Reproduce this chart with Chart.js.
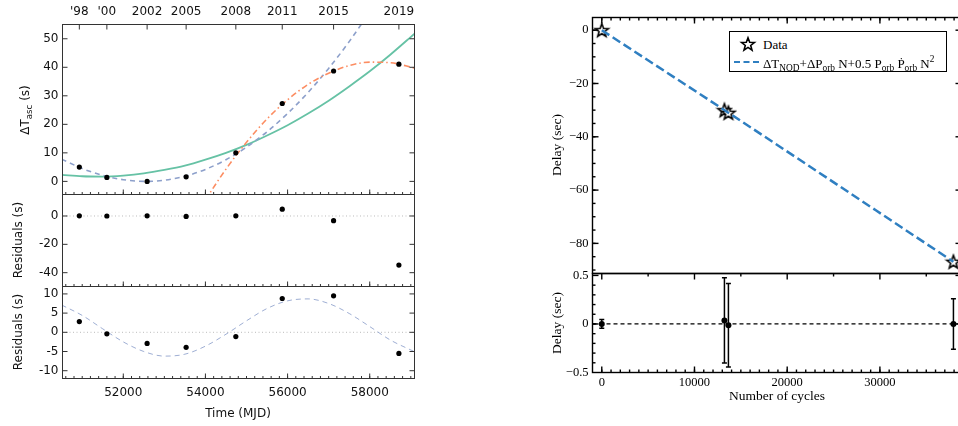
<!DOCTYPE html>
<html>
<head>
<meta charset="utf-8">
<script src="https://cdn.jsdelivr.net/npm/chart.js@4.4.1/dist/chart.umd.min.js"></script>
<style>
  html, body { margin: 0; padding: 0; background: #fff; }
  #wrap { position: relative; width: 958px; height: 426px; overflow: hidden; }
  #wrap canvas { position: absolute; }
  .lab { position: absolute; white-space: nowrap; line-height: 1; transform: translate(-50%, -50%); }
  .rot { transform: translate(-50%, -50%) rotate(-90deg); }
  .sans { font-family: "DejaVu Sans", sans-serif; font-size: 12px; color: #111; }
  .serif { font-family: "Liberation Serif", serif; font-size: 13.5px; color: #000; }
  sub, sup { font-size: 0.72em; line-height: 0; }
  #legend { position: absolute; left: 729px; top: 31px; width: 216px; height: 39px; border: 1.4px solid #000; background: #fff;
            font-family: "Liberation Serif", serif; font-size: 13px; color: #000; }
  #legend .t { position: absolute; white-space: nowrap; line-height: 1; transform: translateY(-50%); }
  #legend .dash { position: absolute; left: 4px; top: 29px; width: 25px; border-top: 2.5px dashed #2f7fc1; }
</style>
</head>
<body>
<div id="wrap">
  <canvas id="lt" width="420" height="426" style="left:0;top:0"></canvas>
  <canvas id="lm" width="420" height="426" style="left:0;top:0"></canvas>
  <canvas id="lb" width="420" height="426" style="left:0;top:0"></canvas>
  <canvas id="rt" width="470" height="426" style="left:540px;top:0"></canvas>
  <canvas id="rb" width="470" height="426" style="left:540px;top:0"></canvas>

  <div class="lab rot sans" style="left:25px;top:110px">ΔT<sub>asc</sub> (s)</div>
  <div class="lab rot sans" style="left:18px;top:240px">Residuals (s)</div>
  <div class="lab rot sans" style="left:18px;top:332px">Residuals (s)</div>
  <div class="lab sans" style="left:238px;top:413px">Time (MJD)</div>

  <div class="lab rot serif" style="left:557px;top:145px">Delay (sec)</div>
  <div class="lab rot serif" style="left:557px;top:323px">Delay (sec)</div>
  <div class="lab serif" style="left:777px;top:396px">Number of cycles</div>

  <div id="legend">
    <span class="t" style="left:33px;top:12px">Data</span>
    <div class="dash"></div>
    <span class="t" style="left:33px;top:31px">ΔT<sub>NOD</sub>+ΔP<sub>orb</sub> N+0.5 P<sub>orb</sub> Ṗ<sub>orb</sub> N<sup>2</sup></span>
  </div>
</div>

<script>
// left figure: observed epochs (MJD) and values
const mjd = [50930, 51600, 52580, 53530, 54740, 55870, 57120, 58710];
const yearLabels = ["'98", "'00", "2002", "2005", "2008", "2011", "2015", "2019"];
const dTasc = [5.0, 1.4, 0.0, 1.6, 10.0, 27.3, 38.7, 41.1];
const residQuad = [0.1, 0.0, 0.1, -0.3, 0.1, 4.8, -3.3, -34.6];
const residSine = [2.8, -0.4, -2.9, -3.9, -1.1, 8.8, 9.5, -5.5];

// fitted curves
const fitMjd = [50500, 51000, 51500, 52000, 52500, 53000, 53500, 54000, 54500, 55000, 55500, 56000, 56500, 57000, 57500, 58000, 58500, 59100];
const fitGreen = [2.3, 1.8, 1.7, 2.05, 2.8, 4.0, 5.5, 7.6, 10.0, 12.8, 16.1, 19.7, 23.8, 28.3, 33.3, 38.6, 44.4, 51.9];
const fitBlue = [7.8, 4.5, 2.1, 0.6, 0.0, 0.4, 1.8, 4.2, 7.6, 12.0, 17.4, 23.8, 31.2, 39.6, 49.0, 59.4, null, null];
const fitOrange = [null, null, null, null, null, null, -18.8, -6.6, 4.3, 13.7, 21.9, 28.6, 34.0, 37.9, 40.6, 41.8, 41.6, 39.7];
const fitSine = [7.1, 4.4, 0.9, -2.5, -5.0, -6.2, -5.7, -3.6, -0.5, 3.0, 6.2, 8.2, 8.7, 7.5, 4.9, 1.5, -2.0, -5.1];

// right figure
const cycles = [0, 13230, 13660, 37930];
const delay = [0, -30.0, -31.0, -86.9];
const fitCycles = [0, 13450, 37930];
const fitDelay = [0, -30.5, -86.9];
const residDelay = [0, 0.037, -0.014, 0];
const residErr = [0.045, 0.44, 0.43, 0.26];

// tick values
const dtTicks = [0, 10, 20, 30, 40, 50];
const quadTicks = [0, -20, -40];
const sineTicks = [10, 5, 0, -5, -10];
const mjdTicks = [52000, 54000, 56000, 58000];
const delayTicks = [0, -20, -40, -60, -80];
const dresTicks = [0.5, 0, -0.5];
const cycleTicks = [0, 10000, 20000, 30000];

const pts = (xs, ys) => xs.map((x, i) => ({x, y: ys[i]})).filter(p => p.y !== null);
const range = (a, b, s) => { const r = []; for (let v = a; v <= b + 1e-9; v += s) r.push(+v.toFixed(6)); return r; };
const fixed = vals => s => { s.ticks = vals.map(v => ({value: v})); };
const minus = v => (v < 0 ? '\u2212' : '') + String(Math.abs(v));

const SANS = {family: 'DejaVu Sans', size: 12};
const SERIF = {family: 'Liberation Serif', size: 12.5};

// frame, inward ticks and error bars
const frame = {
    id: 'frame',
    beforeDatasetsDraw(chart, args, o) {
        if (!o.errors) return;
        const {ctx, scales} = chart;
        const meta = chart.getDatasetMeta(o.errors.dataset);
        const data = chart.data.datasets[o.errors.dataset].data;
        ctx.save();
        ctx.strokeStyle = '#000';
        ctx.lineWidth = 1.5;
        o.errors.values.forEach((e, i) => {
            const x = meta.data[i].x;
            const y1 = scales.y.getPixelForValue(data[i].y + e);
            const y2 = scales.y.getPixelForValue(data[i].y - e);
            ctx.beginPath();
            ctx.moveTo(x, y1); ctx.lineTo(x, y2);
            ctx.moveTo(x - 2.5, y1); ctx.lineTo(x + 2.5, y1);
            ctx.moveTo(x - 2.5, y2); ctx.lineTo(x + 2.5, y2);
            ctx.stroke();
        });
        ctx.restore();
    },
    afterDraw(chart, args, o) {
        const {ctx, chartArea: a, scales} = chart;
        ctx.save();
        ctx.strokeStyle = o.color;
        ctx.lineWidth = o.width;
        ctx.strokeRect(a.left, a.top, a.right - a.left, a.bottom - a.top);
        (o.marks || []).forEach(m => {
            const sc = scales[m.axis];
            m.values.forEach(v => {
                const p = sc.getPixelForValue(v);
                ctx.beginPath();
                if (m.axis === 'x') {
                    if (p < a.left + 1 || p > a.right - 1) return;
                    const y0 = m.side === 'top' ? a.top : a.bottom;
                    ctx.moveTo(p, y0);
                    ctx.lineTo(p, m.side === 'top' ? y0 + m.len : y0 - m.len);
                } else {
                    if (p < a.top + 1 || p > a.bottom - 1) return;
                    const x0 = m.side === 'left' ? a.left : a.right;
                    ctx.moveTo(x0, p);
                    ctx.lineTo(m.side === 'left' ? x0 + m.len : x0 - m.len, p);
                }
                ctx.stroke();
            });
        });
        ctx.restore();
    }
};

const mark = (axis, side, values, len) => ({axis, side, values, len});

// fix the plot area: displayed axes get the margin, others get layout padding
function place(scales, area, W, H) {
    const pad = {left: area.l, top: area.t, right: W - area.r, bottom: H - area.b};
    Object.values(scales).forEach(s => {
        if (s.display === false) return;
        const side = s.position;
        const size = pad[side];
        pad[side] = 0;
        s.afterFit = sc => {
            if (side === 'left' || side === 'right') sc.width = size;
            else sc.height = size;
        };
    });
    return pad;
}

function axis(min, max, extra) {
    return Object.assign({
        type: 'linear', min, max,
        grid: {display: false, drawTicks: false},
        border: {display: false}
    }, extra);
}

function makeChart(id, W, H, area, datasets, scales, frameOpts) {
    const padding = place(scales, area, W, H);
    return new Chart(document.getElementById(id), {
        type: 'scatter',
        data: {datasets},
        options: {
            responsive: false,
            animation: false,
            devicePixelRatio: 1,
            layout: {padding},
            scales,
            plugins: {legend: {display: false}, tooltip: {enabled: false}, frame: frameOpts}
        },
        plugins: [frame]
    });
}

function dots(xs, ys) {
    return {data: pts(xs, ys), pointRadius: 2.6, pointBackgroundColor: '#000', pointBorderWidth: 0, showLine: false};
}
function curve(xs, ys, color, width, dash) {
    return {data: pts(xs, ys), showLine: true, pointRadius: 0, borderColor: color, borderWidth: width,
            borderDash: dash, cubicInterpolationMode: 'monotone'};
}

function makeStar(R) {
    const c = document.createElement('canvas');
    const s = Math.ceil(R * 2 + 4);
    c.width = c.height = s;
    const g = c.getContext('2d');
    g.translate(s / 2, s / 2 + R * 0.08);
    g.beginPath();
    for (let k = 0; k < 10; k++) {
        const r = k % 2 ? R * 0.42 : R;
        const ang = -Math.PI / 2 + k * Math.PI / 5;
        g.lineTo(r * Math.cos(ang), r * Math.sin(ang));
    }
    g.closePath();
    g.fillStyle = '#fff';
    g.fill();
    g.lineWidth = 1.6;
    g.strokeStyle = '#000';
    g.stroke();
    return c;
}

// ---------- left figure ----------
const LW = 420, LH = 426;
const leftMinor = range(50600, 59000, 200);
const leftX = () => axis(50520, 59090, {display: false});
const leftY = (min, max, ticks) => axis(min, max, {
    position: 'left', afterBuildTicks: fixed(ticks),
    ticks: {padding: 4, font: SANS, color: '#111', callback: v => String(v)}
});
const leftFrame = (yt, extra) => ({
    color: '#333', width: 1,
    marks: [mark('x', 'bottom', mjdTicks, 5), mark('x', 'bottom', leftMinor, 2.5),
            mark('y', 'left', yt, 5), mark('y', 'right', yt, 5)].concat(extra || [])
});

makeChart('lt', LW, LH, {l: 62.5, t: 24.5, r: 414.5, b: 194.5}, [
    dots(mjd, dTasc),
    curve(fitMjd, fitOrange, '#fc8d62', 1.6, [6, 3, 1.5, 3]),
    curve(fitMjd, fitBlue, '#8da0cb', 1.6, [5, 4]),
    curve(fitMjd, fitGreen, '#66c2a5', 1.8, [])
], {
    x: axis(50520, 59090, {
        position: 'top', afterBuildTicks: fixed(mjd),
        ticks: {autoSkip: false, maxRotation: 0, padding: 5, font: SANS, color: '#111', callback: (v, i) => yearLabels[i]}
    }),
    y: leftY(-4.6, 55, dtTicks)
}, leftFrame(dtTicks, [mark('x', 'top', mjd, 5)]));

makeChart('lm', LW, LH, {l: 62.5, t: 194.5, r: 414.5, b: 286.5}, [
    dots(mjd, residQuad),
    curve([50520, 59090], [0, 0], '#bbb', 1, [1, 2.5])
], {
    x: leftX(),
    y: leftY(-49.75, 15.17, quadTicks)
}, leftFrame(quadTicks));

makeChart('lb', LW, LH, {l: 62.5, t: 286.5, r: 414.5, b: 378.5}, [
    dots(mjd, residSine),
    curve(fitMjd, fitSine, 'rgba(141,160,203,0.85)', 1, [5, 4]),
    curve([50520, 59090], [0, 0], '#bbb', 1, [1, 2.5])
], {
    x: axis(50520, 59090, {
        position: 'bottom', afterBuildTicks: fixed(mjdTicks),
        ticks: {autoSkip: false, maxRotation: 0, padding: 7.5, font: SANS, color: '#111', callback: v => String(v)}
    }),
    y: leftY(-12.03, 11.93, sineTicks)
}, leftFrame(sineTicks));

// ---------- right figure ----------
const RW = 470, RH = 426;
const star = makeStar(7);
const legendStar = makeStar(6.8);
legendStar.style.cssText = 'position:absolute;left:' + (17.7 - legendStar.width / 2) + 'px;top:' + (11.5 - legendStar.height / 2) + 'px';
document.getElementById('legend').appendChild(legendStar);

const rightMinor = range(-1000, 38000, 1000);

makeChart('rt', RW, RH, {l: 52.5, t: 17.5, r: 421.5, b: 273.5}, [
    curve(fitCycles, fitDelay, '#2f7fc1', 2.5, [9, 4]),
    {data: pts(cycles, delay), showLine: false, pointStyle: star, pointRadius: 7}
], {
    x: axis(-1000, 38800, {display: false}),
    y: axis(-91.3, 4.76, {
        position: 'left', afterBuildTicks: fixed(delayTicks),
        ticks: {padding: 4, font: SERIF, color: '#000', callback: minus}
    })
}, {
    color: '#000', width: 1.4,
    marks: [mark('x', 'top', cycleTicks, 6), mark('x', 'top', rightMinor, 3),
            mark('y', 'left', delayTicks, 6), mark('y', 'left', range(-90, 0, 5), 3),
            mark('y', 'right', delayTicks, 6), mark('y', 'right', range(-90, 0, 5), 3)]
});

makeChart('rb', RW, RH, {l: 52.5, t: 273.5, r: 421.5, b: 372.5}, [
    {data: pts(cycles, residDelay), showLine: false, pointRadius: 3, pointBackgroundColor: '#000', pointBorderWidth: 0},
    curve([-1000, 38800], [0, 0], '#000', 1.3, [4, 3])
], {
    x: axis(-1000, 38800, {
        position: 'bottom', afterBuildTicks: fixed(cycleTicks),
        ticks: {autoSkip: false, maxRotation: 0, padding: 2.5, font: SERIF, color: '#000', callback: v => String(v)}
    }),
    y: axis(-0.5, 0.52, {
        position: 'left', afterBuildTicks: fixed(dresTicks),
        ticks: {padding: 4, font: SERIF, color: '#000', callback: minus}
    })
}, {
    color: '#000', width: 1.4,
    errors: {dataset: 0, values: residErr},
    marks: [mark('x', 'top', cycleTicks, 6), mark('x', 'top', range(5000, 35000, 10000), 3),
            mark('x', 'bottom', cycleTicks, 6), mark('x', 'bottom', rightMinor, 3),
            mark('y', 'left', dresTicks, 6), mark('y', 'left', range(-0.4, 0.4, 0.1), 3),
            mark('y', 'right', dresTicks, 6), mark('y', 'right', range(-0.4, 0.4, 0.1), 3)]
});
</script>
</body>
</html>
